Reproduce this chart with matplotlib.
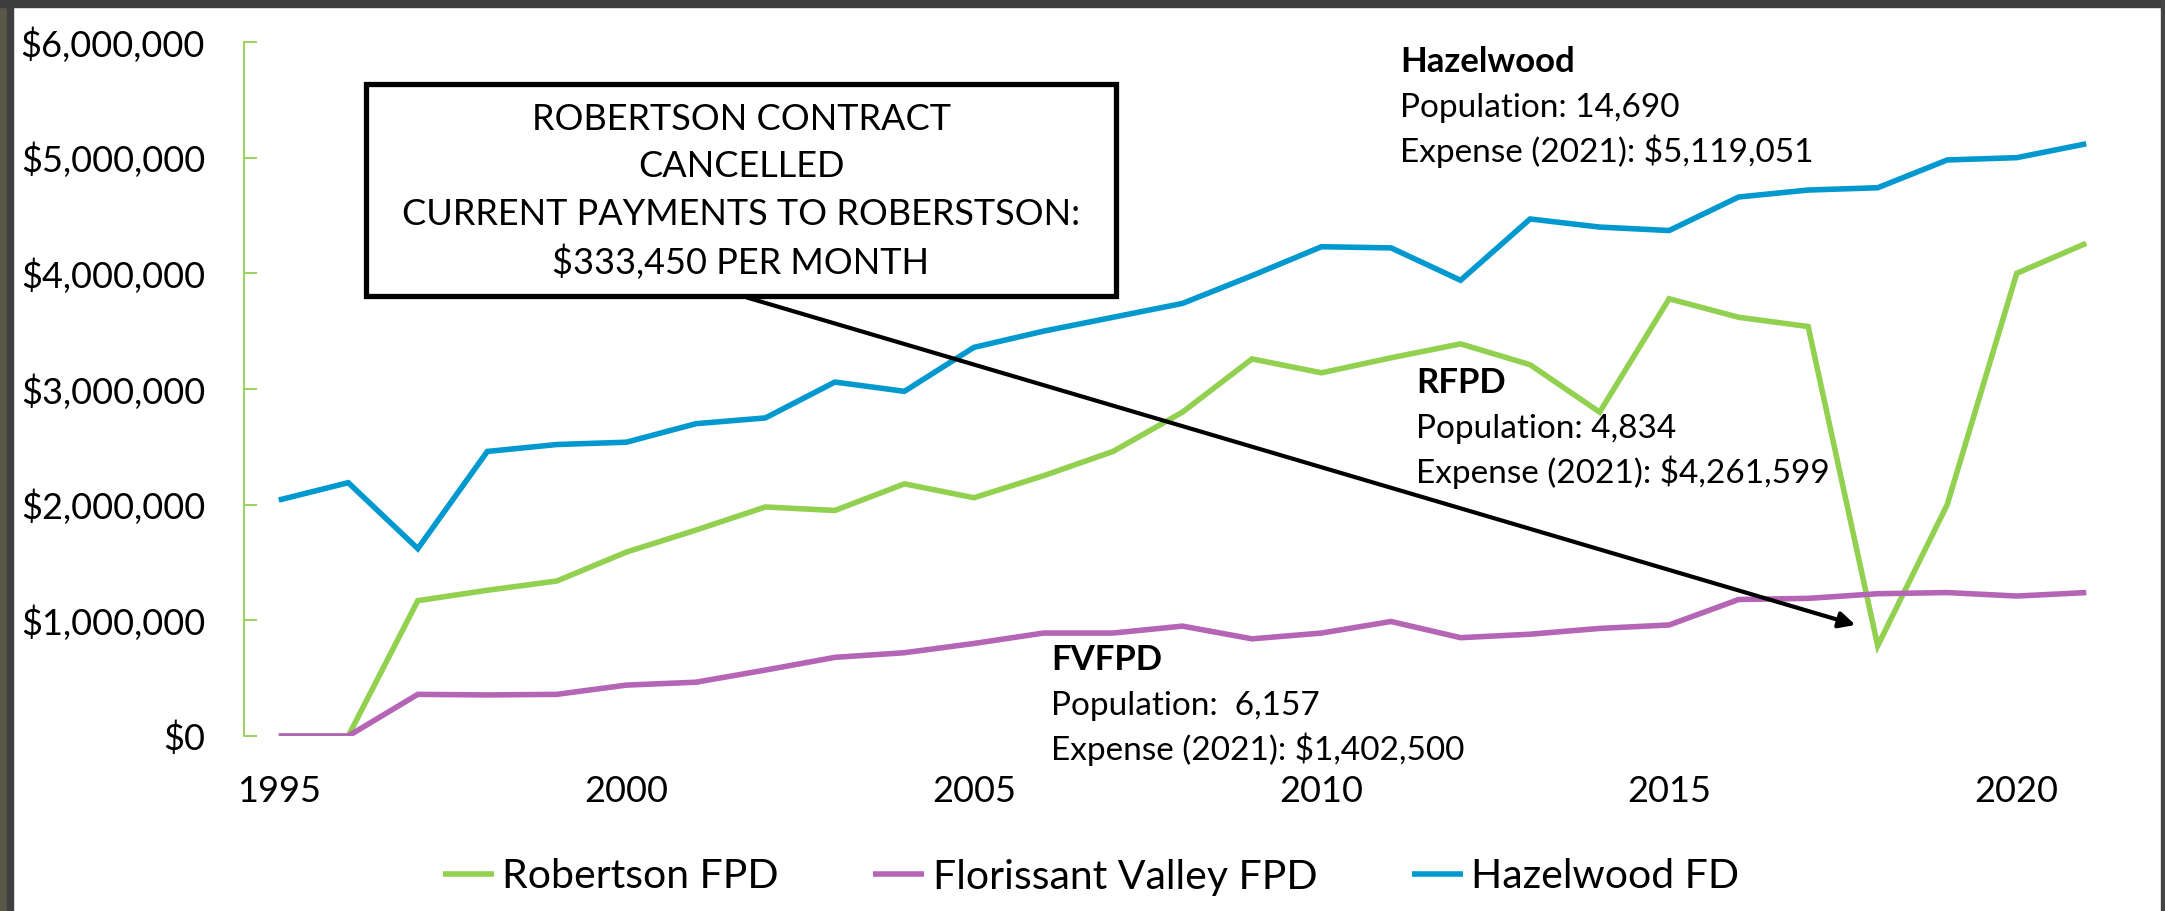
import matplotlib.pyplot as plt
from matplotlib.patches import Rectangle
from matplotlib.ticker import FuncFormatter

plt.rcParams['font.family'] = ['Lato', 'DejaVu Sans']

# data (dollars in millions)
years = list(range(1995, 2022))
robertson = [0, 0, 1.17, 1.26, 1.34, 1.59, 1.78, 1.98, 1.95, 2.18, 2.06, 2.25, 2.46, 2.80,
             3.26, 3.14, 3.27, 3.39, 3.21, 2.80, 3.78, 3.62, 3.54, 0.78, 2.00, 4.00, 4.26]
florissant = [0, 0, 0.36, 0.355, 0.36, 0.44, 0.465, 0.57, 0.68, 0.72, 0.80, 0.89, 0.89, 0.95,
              0.84, 0.89, 0.99, 0.85, 0.88, 0.93, 0.96, 1.18, 1.19, 1.23, 1.24, 1.21, 1.24]
hazelwood = [2.04, 2.19, 1.62, 2.46, 2.52, 2.54, 2.70, 2.75, 3.06, 2.98, 3.36, 3.50, 3.62, 3.74,
             3.98, 4.23, 4.22, 3.94, 4.47, 4.40, 4.37, 4.66, 4.72, 4.74, 4.98, 5.00, 5.12]
series_names = ["Robertson FPD", "Florissant Valley FPD", "Hazelwood FD"]
colors = ["#92d050", "#b565b5", "#0099cf"]
xticks = [1995, 2000, 2005, 2010, 2015, 2020]

box_lines = ["ROBERTSON CONTRACT", "CANCELLED",
             "CURRENT PAYMENTS TO ROBERSTSON:", "$333,450 PER MONTH"]
notes = [
    ("Hazelwood", "Population: 14,690", "Expense (2021): $5,119,051"),
    ("RFPD", "Population: 4,834", "Expense (2021): $4,261,599"),
    ("FVFPD", "Population:  6,157", "Expense (2021): $1,402,500"),
]

W, H = 2165, 911
fig = plt.figure(figsize=(W / 100, H / 100), dpi=100)
fig.patch.set_facecolor("white")


def fx(px):
    return px / W


def fy(py):
    return 1 - py / H


ax = fig.add_axes([fx(244), fy(736), 1877 / W, 694 / H])

for vals, name, c in zip([robertson, florissant, hazelwood], series_names, colors):
    ax.plot(years, [v * 1e6 for v in vals], color=c, lw=4.0, label=name,
            solid_joinstyle="miter", solid_capstyle="butt")

ax.set_xlim(1994.5, 2021.5)
ax.set_ylim(0, 6e6)
ax.set_yticks([i * 1e6 for i in range(7)])
ax.yaxis.set_major_formatter(FuncFormatter(lambda v, p: "${:,.0f}".format(v)))
ax.set_xticks(xticks)

for s in ["top", "right", "bottom"]:
    ax.spines[s].set_visible(False)
ax.spines["left"].set_color("#92d050")
ax.spines["left"].set_linewidth(1.3)
ax.tick_params(axis="y", direction="in", length=9, width=1.3, color="#92d050",
               labelsize=26, pad=28)
ax.tick_params(axis="x", length=0, labelsize=26, pad=28)

# arrow from the callout box down to the 2018 dip
ax.annotate("", xy=(2017.68, 0.96e6), xytext=(2001.74, 3.79e6),
            arrowprops=dict(arrowstyle="-|>", color="black", lw=3, mutation_scale=24,
                            shrinkA=0, shrinkB=0), annotation_clip=False)

# callout box
fig.patches.append(Rectangle((fx(366), fy(296)), 750 / W, 212 / H, transform=fig.transFigure,
                             fill=True, facecolor="white", edgecolor="black", lw=3.8,
                             zorder=5))
for line, base in zip(box_lines, [130, 177, 225, 274]):
    fig.text(fx(741), fy(base), line, ha="center", va="baseline", fontsize=26, zorder=6)

# district notes
for (title, pop, exp), (x0, y0) in zip(notes, [(1400, 72), (1416, 393), (1051, 670)]):
    fig.text(fx(x0), fy(y0), title, fontsize=25, fontweight="bold", va="baseline")
    fig.text(fx(x0), fy(y0 + 45), pop, fontsize=24, va="baseline")
    fig.text(fx(x0), fy(y0 + 90), exp, fontsize=24, va="baseline")

fig.legend(loc="center", bbox_to_anchor=(fx(1091), fy(877)), ncol=3, frameon=False,
           fontsize=29.5, handlelength=1.25, handletextpad=0.2, columnspacing=2.3)

# slide frame
fig.patches.append(Rectangle((0, 0), fx(7), 1, transform=fig.transFigure, color="#5b5748"))
fig.patches.append(Rectangle((fx(7), 0), fx(6), 1, transform=fig.transFigure, color="#3f3f3f"))
fig.patches.append(Rectangle((0, fy(7)), 1, 7 / H, transform=fig.transFigure, color="#3d3d3d"))
fig.patches.append(Rectangle((fx(2161), 0), fx(4), 1, transform=fig.transFigure, color="#444444"))

fig.savefig("out.png", dpi=100)
